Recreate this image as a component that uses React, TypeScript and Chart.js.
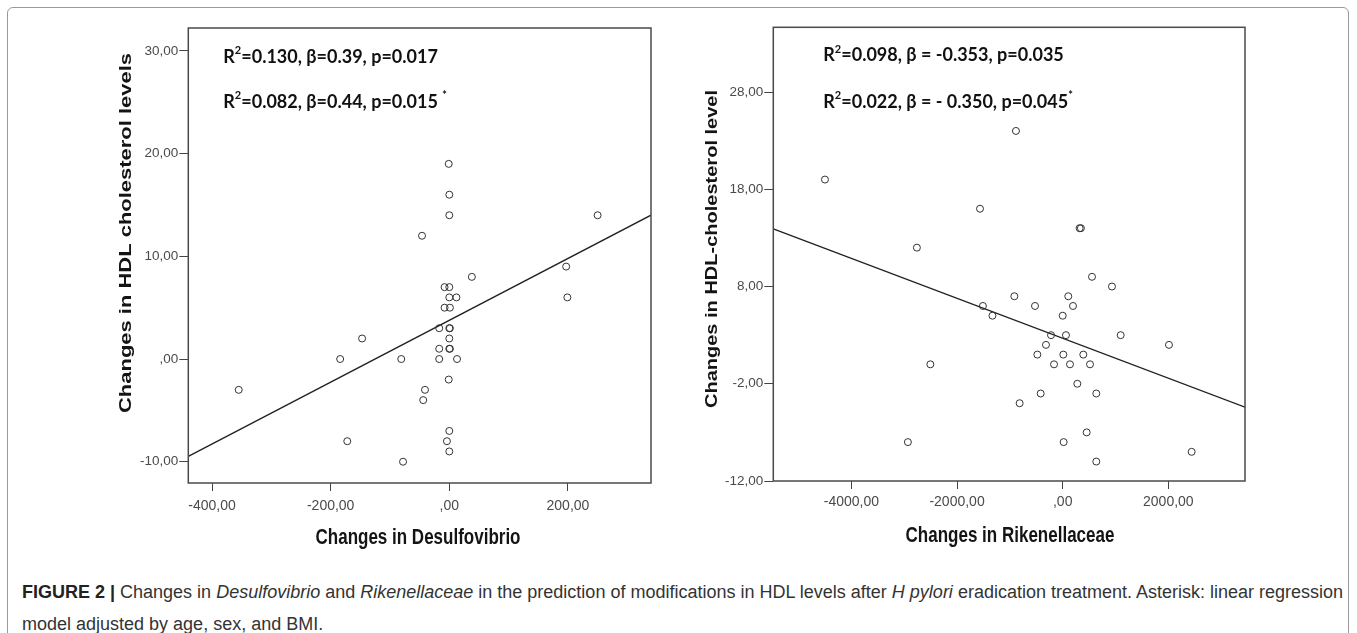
import React, { useEffect, useRef } from "react";
import { Chart, registerables } from "chart.js";

Chart.register(...registerables);

// ---------- DATA ----------
// Left panel: changes in Desulfovibrio vs changes in HDL cholesterol
const desulfoChange = [-355, -184, -172, -147, -81, -78, -46, -41, -44, -17, -17, -17, -8, -8, 0, -1, 0, 0, 0, 12, 1, 0, 1, 0, 0, 1, 13, -1, 0, -4, 0, 38, 197, 199, 250];
const hdlChangeL = [-3, 0, -8, 2, 0, -10, 12, -3, -4, 1, 0, 3, 5, 7, 7, 19, 16, 14, 6, 6, 5, 3, 3, 2, 1, 1, 0, -2, -7, -8, -9, 8, 9, 6, 14];

// Right panel: changes in Rikenellaceae vs changes in HDL cholesterol
const rikenChange = [-4500, -2760, -1565, -1510, -1330, -2505, -2930, -885, 320, 345, 555, 933, -915, 106, -524, 195, 0, -221, 62, 1098, -316, 2012, -480, 12, 390, -164, 138, 517, 277, -417, 636, -815, 454, 18, 2441, 636];
const hdlChangeR = [19, 12, 16, 6, 5, 0, -8, 24, 14, 14, 9, 8, 7, 7, 6, 6, 5, 3, 3, 3, 2, 2, 1, 1, 1, 0, 0, 0, -2, -3, -3, -4, -7, -8, -9, -10];

// Axis ranges
const xRangeL = [-440, 340];
const yRangeL = [-12.07, 32.23];
const xRangeR = [-5478, 3451];
const yRangeR = [-12, 34.66];

// Tick values and labels
const xTicksL = [-400, -200, 0, 200];
const xTickLabelsL = ["-400,00", "-200,00", ",00", "200,00"];
const yTicksL = [-10, 0, 10, 20, 30];
const yTickLabelsL = ["-10,00", ",00", "10,00", "20,00", "30,00"];
const xTicksR = [-4000, -2000, 0, 2000];
const xTickLabelsR = ["-4000,00", "-2000,00", ",00", "2000,00"];
const yTicksR = [-12, -2, 8, 18, 28];
const yTickLabelsR = ["-12,00", "-2,00", "8,00", "18,00", "28,00"];

// Regression fits (intercept, slope)
const fitL = [3.77, 0.0301];
const fitR = [2.68, -0.002053];

// Annotation texts
const statsL = [
  [["R", false], ["2", true], ["=0.130, β=0.39, p=0.017", false]],
  [["R", false], ["2", true], ["=0.082, β=0.44, p=0.015 ", false], ["*", true]],
];
const statsR = [
  [["R", false], ["2", true], ["=0.098, β = -0.353, p=0.035", false]],
  [["R", false], ["2", true], ["=0.022, β = - 0.350, p=0.045", false], ["*", true]],
];

const xTitleL = "Changes in Desulfovibrio";
const yTitleL = "Changes in HDL cholesterol levels";
const xTitleR = "Changes in Rikenellaceae";
const yTitleR = "Changes in HDL-cholesterol level";

// ---------- CHART ----------
type PanelCfg = {
  xs: number[];
  ys: number[];
  xRange: number[];
  yRange: number[];
  xTicks: number[];
  xTickLabels: string[];
  yTicks: number[];
  yTickLabels: string[];
  fit: number[];
  stats: any[];
  xTitle: string;
  yTitle: string;
  layout: {
    padTop: number;
    padRight: number;
    yWidth: number;
    xHeight: number;
    xPad: number;
    yTitleX: number;
    yTitleY: number;
    yTitleLen: number;
    xTitleX: number;
    xTitleY: number;
    statsX: number;
    statsY: number[];
  };
};

const TICK_FONT = '"Liberation Sans Narrow", "Liberation Sans", Arial, sans-serif';
const TITLE_FONT = '"Liberation Sans", Arial, sans-serif';
const STATS_FONT = 'Lato, "Open Sans", sans-serif';

function decorPlugin(cfg: PanelCfg) {
  return {
    id: "decor",
    afterDraw(chart: any) {
      const { ctx, chartArea: a } = chart;
      const L = cfg.layout;
      ctx.save();
      // plot frame
      ctx.strokeStyle = "#4a4a4a";
      ctx.lineWidth = 1.5;
      ctx.strokeRect(a.left, a.top, a.right - a.left, a.bottom - a.top);
      ctx.restore();

      // y title (rotated, stretched along its length)
      ctx.save();
      ctx.font = "bold 17px " + TITLE_FONT;
      ctx.fillStyle = "#141414";
      const w = ctx.measureText(cfg.yTitle).width;
      ctx.translate(L.yTitleX, L.yTitleY);
      ctx.rotate(-Math.PI / 2);
      ctx.scale(L.yTitleLen / w, 1);
      ctx.textAlign = "center";
      ctx.textBaseline = "middle";
      ctx.fillText(cfg.yTitle, 0, 0);
      ctx.restore();

      // x title
      ctx.save();
      ctx.font = "bold 17px " + TITLE_FONT;
      ctx.fillStyle = "#141414";
      ctx.translate(L.xTitleX, L.xTitleY);
      ctx.scale(1, 1.25);
      ctx.textAlign = "center";
      ctx.textBaseline = "middle";
      ctx.fillText(cfg.xTitle, 0, 0);
      ctx.restore();

      // stats annotations
      ctx.save();
      ctx.fillStyle = "#111";
      ctx.textBaseline = "middle";
      ctx.textAlign = "left";
      cfg.stats.forEach((line: any[], i: number) => {
        let x = L.statsX;
        const y = L.statsY[i];
        line.forEach(([t, sup]: [string, boolean]) => {
          ctx.font = sup ? "bold 11px " + STATS_FONT : "bold 18px " + STATS_FONT;
          ctx.fillText(t, x, sup ? y - 6 : y);
          x += ctx.measureText(t).width;
        });
      });
      ctx.restore();
    },
  };
}

function Panel({ cfg, left, top, width, height }: { cfg: PanelCfg; left: number; top: number; width: number; height: number }) {
  const ref = useRef<HTMLCanvasElement | null>(null);
  useEffect(() => {
    if (!ref.current) return;
    const L = cfg.layout;
    const pts = cfg.xs.map((x, i) => ({ x, y: cfg.ys[i] }));
    const [x0, x1] = cfg.xRange;
    const linePts = [
      { x: x0, y: cfg.fit[0] + cfg.fit[1] * x0 },
      { x: x1, y: cfg.fit[0] + cfg.fit[1] * x1 },
    ];
    const chart = new Chart(ref.current, {
      type: "scatter",
      data: {
        datasets: [
          {
            data: pts,
            pointRadius: 3.5,
            pointBorderWidth: 1,
            pointBorderColor: "#333",
            pointBackgroundColor: "rgba(0,0,0,0)",
            showLine: false,
          },
          {
            data: linePts,
            showLine: true,
            borderColor: "#222",
            borderWidth: 1.4,
            pointRadius: 0,
            fill: false,
          },
        ],
      } as any,
      options: {
        responsive: false,
        animation: false,
        devicePixelRatio: 1,
        layout: { padding: { top: L.padTop, right: L.padRight, left: 0, bottom: 0 } },
        plugins: { legend: { display: false }, tooltip: { enabled: false }, title: { display: false } },
        scales: {
          x: {
            type: "linear",
            min: cfg.xRange[0],
            max: cfg.xRange[1],
            afterBuildTicks: (s: any) => {
              s.ticks = cfg.xTicks.map((v) => ({ value: v }));
            },
            afterFit: (s: any) => {
              s.height = L.xHeight;
            },
            grid: { display: true, drawOnChartArea: false, drawTicks: true, tickLength: 8, color: "#444", lineWidth: 1 },
            border: { display: false },
            ticks: {
              autoSkip: false,
              maxRotation: 0,
              padding: L.xPad,
              color: "#4a4a4a",
              font: { family: TICK_FONT, size: 14 },
              callback: (_v: any, i: number) => cfg.xTickLabels[i],
            },
          },
          y: {
            type: "linear",
            min: cfg.yRange[0],
            max: cfg.yRange[1],
            afterBuildTicks: (s: any) => {
              s.ticks = cfg.yTicks.map((v) => ({ value: v }));
            },
            afterFit: (s: any) => {
              s.width = L.yWidth;
            },
            grid: { display: true, drawOnChartArea: false, drawTicks: true, tickLength: 9, color: "#444", lineWidth: 1 },
            border: { display: false },
            ticks: {
              autoSkip: false,
              padding: 1,
              color: "#4a4a4a",
              font: { family: TICK_FONT, size: 13.5 },
              callback: (_v: any, i: number) => cfg.yTickLabels[i],
            },
          },
        },
      } as any,
      plugins: [decorPlugin(cfg)],
    });
    return () => chart.destroy();
  }, [cfg]);
  return (
    <canvas
      ref={ref}
      width={width}
      height={height}
      style={{ position: "absolute", left, top, width, height }}
    />
  );
}

const cfgL: PanelCfg = {
  xs: desulfoChange,
  ys: hdlChangeL,
  xRange: xRangeL,
  yRange: yRangeL,
  xTicks: xTicksL,
  xTickLabels: xTickLabelsL,
  yTicks: yTicksL,
  yTickLabels: yTickLabelsL,
  fit: fitL,
  stats: statsL,
  xTitle: xTitleL,
  yTitle: yTitleL,
  layout: {
    padTop: 18,
    padRight: 29,
    yWidth: 88.3,
    xHeight: 72,
    xPad: 7,
    yTitleX: 26.7,
    yTitleY: 223,
    yTitleLen: 360,
    xTitleX: 318,
    xTitleY: 528,
    statsX: 123.3,
    statsY: [46.7, 91.7],
  },
};

const cfgR: PanelCfg = {
  xs: rikenChange,
  ys: hdlChangeR,
  xRange: xRangeR,
  yRange: yRangeR,
  xTicks: xTicksR,
  xTickLabels: xTickLabelsR,
  yTicks: yTicksR,
  yTickLabels: yTickLabelsR,
  fit: fitR,
  stats: statsR,
  xTitle: xTitleR,
  yTitle: yTitleR,
  layout: {
    padTop: 17.3,
    padRight: 25,
    yWidth: 83.3,
    xHeight: 74,
    xPad: 5,
    yTitleX: 22.7,
    yTitleY: 239,
    yTitleLen: 318,
    xTitleX: 320,
    xTitleY: 526,
    statsX: 133.3,
    statsY: [45, 91.7],
  },
};

export default function App() {
  return (
    <div style={{ position: "absolute", left: 0, top: 0, width: 1357, height: 633, overflow: "hidden", background: "#fff" }}>
      <div
        style={{
          position: "absolute",
          left: 7,
          top: 7,
          width: 1342,
          height: 660,
          border: "1px solid #9a9a9a",
          borderRadius: 6,
          boxSizing: "border-box",
        }}
      />
      <Panel cfg={cfgL} left={100} top={10} width={580} height={545} />
      <Panel cfg={cfgR} left={690} top={10} width={580} height={545} />
      <div
        style={{
          position: "absolute",
          left: 22,
          top: 576,
          fontFamily: '"Liberation Sans", Arial, sans-serif',
          fontSize: 18,
          lineHeight: "32px",
          color: "#333",
          whiteSpace: "nowrap",
        }}
      >
        <b style={{ color: "#222" }}>FIGURE 2 |</b> Changes in <i>Desulfovibrio</i> and <i>Rikenellaceae</i> in the
        prediction of modifications in HDL levels after <i>H pylori</i> eradication treatment. Asterisk: linear regression
        <br />
        model adjusted by age, sex, and BMI.
      </div>
    </div>
  );
}
